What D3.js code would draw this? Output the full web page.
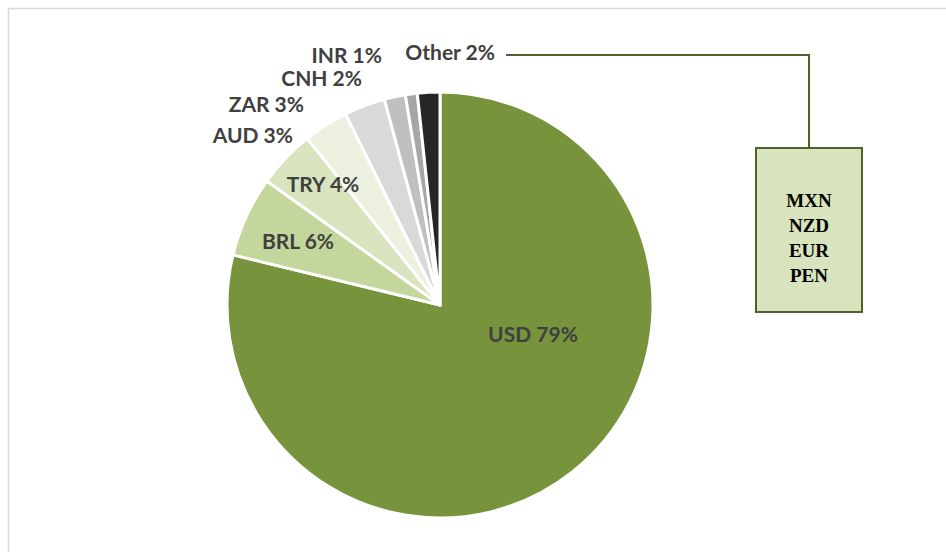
<!DOCTYPE html>
<html>
<head>
<meta charset="utf-8">
<script src="https://cdn.jsdelivr.net/npm/d3@7"></script>
<style>
  body { margin: 0; background: #fff; }
  svg { display: block; }
</style>
</head>
<body>
<div id="chart"></div>
<script>
// currency shares, clockwise from 12 o'clock
const currencies = ["USD", "BRL", "TRY", "AUD", "ZAR", "CNH", "INR", "Other"];
const shares = [78.7, 6.1, 4.4, 3.4, 3.1, 1.6, 0.9, 1.7];
const labels = ["USD 79%", "BRL 6%", "TRY 4%", "AUD 3%", "ZAR 3%", "CNH 2%", "INR 1%", "Other 2%"];
const colors = ["#77933c", "#c3d69b", "#d7e4bd", "#ebf1de", "#d9d9d9", "#bfbfbf", "#a6a6a6", "#262626"];
const otherBreakdown = ["MXN", "NZD", "EUR", "PEN"];

const width = 946, height = 552;
const cx = 440, cy = 305, radius = 213;

const svg = d3.select("#chart").append("svg")
    .attr("width", width)
    .attr("height", height);

// chart area border (only top and left show in the frame)
svg.append("rect")
    .attr("x", 8.5).attr("y", 8.5)
    .attr("width", width + 20).attr("height", height + 20)
    .style("fill", "none")
    .style("stroke", "#d9d9d9")
    .style("stroke-width", 1.5);

const data = currencies.map((c, i) => ({ name: c, value: shares[i], label: labels[i], color: colors[i] }));

const pie = d3.pie()
    .sort(null)
    .value(d => d.value);

const arcs = pie(data);

const arc = d3.arc()
    .innerRadius(0)
    .outerRadius(radius);

const g = svg.append("g")
    .attr("transform", "translate(" + cx + "," + cy + ")");

g.selectAll(".slice")
    .data(arcs)
    .enter().append("path")
    .attr("class", "slice")
    .attr("d", arc)
    .style("fill", d => d.data.color)
    .style("stroke", "white")
    .style("stroke-width", 3)
    .style("stroke-linejoin", "round");

// label positions (relative to pie centre)
const labelPos = {
    USD: [93, 28, "middle"],
    BRL: [-142, -65, "middle"],
    TRY: [-117, -122, "middle"],
    AUD: [-147, -171, "end"],
    ZAR: [-136, -202, "end"],
    CNH: [-78, -228, "end"],
    INR: [-58, -251, "end"],
    Other: [55, -254, "end"]
};

g.selectAll(".label")
    .data(arcs)
    .enter().append("text")
    .attr("class", "label")
    .attr("x", d => labelPos[d.data.name][0])
    .attr("y", d => labelPos[d.data.name][1])
    .attr("dominant-baseline", "central")
    .style("text-anchor", d => labelPos[d.data.name][2])
    .style("font-family", "Lato, 'Open Sans', sans-serif")
    .style("font-weight", "bold")
    .style("font-size", "21px")
    .style("fill", "#404040")
    .text(d => d.data.label);

// callout for "Other"
const box = { x: 756, y: 148, w: 106, h: 164 };
svg.append("polyline")
    .attr("points", [[506, 55], [809, 55], [809, box.y]].map(p => p.join(",")).join(" "))
    .style("fill", "none")
    .style("stroke", "#4f6228")
    .style("stroke-width", 2);

svg.append("rect")
    .attr("x", box.x).attr("y", box.y)
    .attr("width", box.w).attr("height", box.h)
    .style("fill", "#d7e4bd")
    .style("stroke", "#4f6228")
    .style("stroke-width", 2);

svg.selectAll(".other")
    .data(otherBreakdown)
    .enter().append("text")
    .attr("class", "other")
    .attr("x", box.x + box.w / 2)
    .attr("y", (d, i) => 200 + i * 25)
    .attr("dominant-baseline", "central")
    .style("text-anchor", "middle")
    .style("font-family", "'Liberation Serif', serif")
    .style("font-weight", "bold")
    .style("font-size", "19px")
    .style("fill", "#000")
    .text(d => d);
</script>
</body>
</html>
